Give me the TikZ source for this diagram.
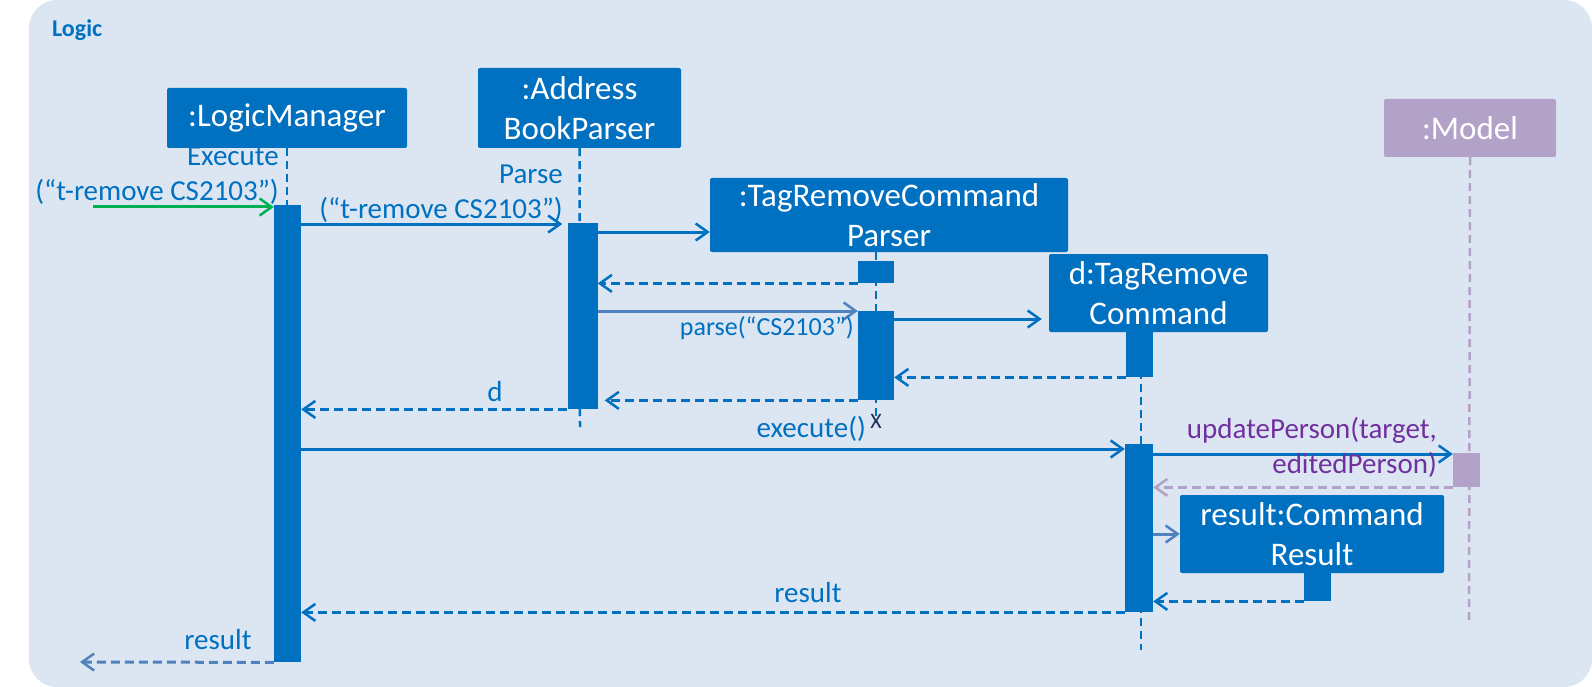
\documentclass[tikz,border=0pt]{standalone}
\usepackage{fontspec}
\setmainfont{Carlito}
\usetikzlibrary{arrows.meta}
\definecolor{frameblue}{RGB}{220,230,242}
\definecolor{boxblue}{RGB}{0,112,192}
\definecolor{paleblue}{RGB}{79,129,189}
\definecolor{lavender}{RGB}{179,162,199}
\definecolor{textpurple}{RGB}{112,48,160}
\definecolor{arrowgreen}{RGB}{0,176,80}
\definecolor{navy}{RGB}{31,45,90}

\begin{document}
\begin{tikzpicture}[x=1pt,y=-1pt]
      \tikzset{object/.style={fill=#1,
          text=white,
          rounded corners=2pt,
          align=center,
          inner sep=0pt,
          font=\fontsize{33}{40}\selectfont},
        bar/.style={fill=#1, inner sep=0pt, anchor=north},
        lifeline/.style={draw=#1, line width=2.5pt, dash pattern=on 8pt off 5pt},
        msg/.style={draw=#1, line width=3pt,
          -{Straight Barb[length=12pt,width=17pt,line width=2.5pt]}},
        reply/.style={msg=#1, dash pattern=on 9pt off 5pt},
        txt/.style={text=#1, inner sep=0pt, font=\fontsize{29}{35}\selectfont}
      }
      \useasboundingbox (0,0) rectangle (1592,687);
      \fill [frameblue, rounded corners=28pt] (29,0) rectangle (1592,687);
      \node [anchor=west, text=boxblue, inner sep=0pt, font=\bfseries\fontsize{24}{28}\selectfont] (T) at (52,30) {Logic};

      \node [object=boxblue, minimum width=240pt, minimum height=60pt] (LM) at (287,118) {:LogicManager};
      \node [object=boxblue, minimum width=203pt, minimum height=80pt] (ABP) at (579.5,108) {:Address\\BookParser};
      \node [object=boxblue, minimum width=358pt, minimum height=74pt] (TRP) at (889,215) {:TagRemoveCommand\\Parser};
      \node [object=boxblue, minimum width=219pt, minimum height=78pt] (DTR) at (1158.5,293) {d:TagRemove\\Command};
      \node [object=boxblue, minimum width=264pt, minimum height=78pt] (RES) at (1312,534) {result:Command\\Result};
      \node [object=lavender, minimum width=172pt, minimum height=58pt] (M) at (1470,128) {:Model};

      \coordinate (LMend) at (287,662);
      \coordinate (ABPend) at (580,427);
      \coordinate (TRPtop) at (876,252);
      \coordinate (TRPend) at (876,423);
      \coordinate (DTRtop) at (1141,332);
      \coordinate (DTRend) at (1141,650);
      \coordinate (Mend) at (1469,620);
      \draw [lifeline=boxblue] (LM.south)--(LMend);
      \draw [lifeline=boxblue] (ABP.south)--(ABPend);
      \draw [lifeline=boxblue] (TRPtop)--(TRPend);
      \draw [lifeline=boxblue] (DTRtop)--(DTRend);
      \draw [lifeline=lavender] (M.south)--(Mend);

      \node [bar=boxblue, minimum width=27pt, minimum height=457pt] (LM1) at (287.5,205) {};
      \node [bar=boxblue, minimum width=30pt, minimum height=186pt] (ABP1) at (582.5,223) {};
      \node [bar=boxblue, minimum width=36pt, minimum height=22pt] (TRP1) at (876,261) {};
      \node [bar=boxblue, minimum width=36pt, minimum height=89pt] (TRP2) at (876,311) {};
      \node [bar=boxblue, minimum width=27pt, minimum height=45pt] (DTR1) at (1139.5,332) {};
      \node [bar=boxblue, minimum width=28pt, minimum height=168pt] (DTR2) at (1139,444) {};
      \node [bar=lavender, minimum width=27pt, minimum height=34pt] (M1) at (1466.5,453) {};
      \node [bar=boxblue, minimum width=27pt, minimum height=28pt] (RES1) at (1317.5,573) {};

      \coordinate (IN) at (93,207);
      \coordinate (OUT) at (80,662);
      \draw [msg=arrowgreen] (IN)--(LM1.west |- IN);
      \draw [msg=boxblue, shorten >=5pt] (LM1.east |- 0,224)--(ABP1.west |- 0,224);
      \draw [msg=boxblue] (ABP1.east |- 0,232)--(TRP.west |- 0,232);
      \draw [reply=boxblue] (TRP1.south west)--(ABP1.east |- TRP1.south west);
      \draw [msg=paleblue] (ABP1.east |- TRP2.north)--(TRP2.north west);
      \draw [msg=boxblue, shorten >=7pt] (TRP2.east |- 0,319)--(DTR.west |- 0,319);
      \draw [reply=boxblue] (DTR1.south west)--(TRP2.east |- DTR1.south west);
      \draw [reply=boxblue, shorten >=7pt] (TRP2.south west)--(ABP1.east |- TRP2.south west);
      \draw [reply=boxblue] (ABP1.south west)--(LM1.east |- ABP1.south west);
      \draw [msg=boxblue] (LM1.east |- 0,449)--(DTR2.west |- 0,449);
      \draw [msg=boxblue] (DTR2.east |- 0,454)--(M1.west |- 0,454);
      \draw [reply=lavender] (M1.south west)--(DTR2.east |- M1.south west);
      \draw [msg=paleblue] (DTR2.east |- RES.west)--(RES.west);
      \draw [reply=boxblue] (RES1.south west)--(DTR2.east |- RES1.south west);
      \draw [reply=boxblue] (DTR2.south west)--(LM1.east |- DTR2.south west);
      \draw [reply=paleblue] (LM1.south west)--(OUT);

      \node [txt=boxblue, anchor=east, align=right] (L1) at (279,176) {Execute\\(“t-remove CS2103”)};
      \node [txt=boxblue, anchor=east, align=right] (L2) at (563,193.5) {Parse\\(“t-remove CS2103”)};
      \node [txt=boxblue, anchor=east, font=\fontsize{26}{31}\selectfont] (L3) at (854,328) {parse(“CS2103”)};
      \node [txt=boxblue] (L4) at (495,392) {d};
      \node [txt=navy, font=\fontsize{22}{26}\selectfont] (X) at (876,421) {X};
      \node [txt=boxblue, anchor=east] (L5) at (866,429) {execute()};
      \node [txt=textpurple, anchor=east, align=right] (L6) at (1437,447.5) {updatePerson(target,\\editedPerson)};
      \node [txt=boxblue] (L7) at (808,593) {result};
      \node [txt=boxblue] (L8) at (218,640) {result};

    \end{tikzpicture}
\end{document}
